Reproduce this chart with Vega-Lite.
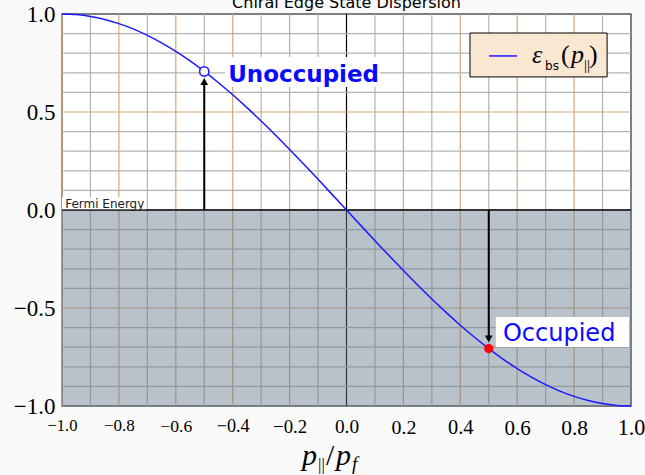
{
  "$schema": "https://vega.github.io/schema/vega-lite/v6.json",
  "width": 569,
  "height": 392,
  "autosize": "none",
  "padding": {"left": 62, "top": 14, "right": 14, "bottom": 69},
  "background": "#fafafa",
  "config": {"view": {"fill": "#ffffff", "stroke": "#555555", "strokeWidth": 1.5}},
  "datasets": {
    "curve": [
      {"x": -1.0, "y": 1.0}, {"x": -0.95, "y": 0.99692}, {"x": -0.9, "y": 0.98769}, {"x": -0.85, "y": 0.97237},
      {"x": -0.8, "y": 0.95106}, {"x": -0.75, "y": 0.92388}, {"x": -0.7, "y": 0.89101}, {"x": -0.65, "y": 0.85264},
      {"x": -0.6, "y": 0.80902}, {"x": -0.55, "y": 0.76041}, {"x": -0.5, "y": 0.70711}, {"x": -0.45, "y": 0.64945},
      {"x": -0.4, "y": 0.58779}, {"x": -0.35, "y": 0.5225}, {"x": -0.3, "y": 0.45399}, {"x": -0.25, "y": 0.38268},
      {"x": -0.2, "y": 0.30902}, {"x": -0.15, "y": 0.23345}, {"x": -0.1, "y": 0.15643}, {"x": -0.05, "y": 0.07846},
      {"x": 0.0, "y": 0.0}, {"x": 0.05, "y": -0.07846}, {"x": 0.1, "y": -0.15643}, {"x": 0.15, "y": -0.23345},
      {"x": 0.2, "y": -0.30902}, {"x": 0.25, "y": -0.38268}, {"x": 0.3, "y": -0.45399}, {"x": 0.35, "y": -0.5225},
      {"x": 0.4, "y": -0.58779}, {"x": 0.45, "y": -0.64945}, {"x": 0.5, "y": -0.70711}, {"x": 0.55, "y": -0.76041},
      {"x": 0.6, "y": -0.80902}, {"x": 0.65, "y": -0.85264}, {"x": 0.7, "y": -0.89101}, {"x": 0.75, "y": -0.92388},
      {"x": 0.8, "y": -0.95106}, {"x": 0.85, "y": -0.97237}, {"x": 0.9, "y": -0.98769}, {"x": 0.95, "y": -0.99692},
      {"x": 1.0, "y": -1.0}
    ],
    "vgrid": [
      {"gx": -1.0, "kind": "major"}, {"gx": -0.9, "kind": "minor"}, {"gx": -0.8, "kind": "major"}, {"gx": -0.7, "kind": "minor"},
      {"gx": -0.6, "kind": "major"}, {"gx": -0.5, "kind": "minor"}, {"gx": -0.4, "kind": "major"}, {"gx": -0.3, "kind": "minor"},
      {"gx": -0.2, "kind": "major"}, {"gx": -0.1, "kind": "minor"}, {"gx": 0.0, "kind": "axis"}, {"gx": 0.1, "kind": "minor"},
      {"gx": 0.2, "kind": "major"}, {"gx": 0.3, "kind": "minor"}, {"gx": 0.4, "kind": "major"}, {"gx": 0.5, "kind": "minor"},
      {"gx": 0.6, "kind": "major"}, {"gx": 0.7, "kind": "minor"}, {"gx": 0.8, "kind": "major"}, {"gx": 0.9, "kind": "minor"}
    ],
    "hgrid": [
      {"gy": 0.9, "kind": "minor"}, {"gy": 0.8, "kind": "minor"}, {"gy": 0.7, "kind": "minor"}, {"gy": 0.6, "kind": "minor"},
      {"gy": 0.5, "kind": "major"}, {"gy": 0.4, "kind": "minor"}, {"gy": 0.3, "kind": "minor"}, {"gy": 0.2, "kind": "minor"},
      {"gy": 0.1, "kind": "minor"}, {"gy": -0.1, "kind": "minor"}, {"gy": -0.2, "kind": "minor"}, {"gy": -0.3, "kind": "minor"},
      {"gy": -0.4, "kind": "minor"}, {"gy": -0.5, "kind": "major"}, {"gy": -0.6, "kind": "minor"}, {"gy": -0.7, "kind": "minor"},
      {"gy": -0.8, "kind": "minor"}, {"gy": -0.9, "kind": "minor"}
    ]
  },
  "layer": [
    {
      "data": {"name": "vgrid"},
      "mark": {"type": "rule", "strokeWidth": 1.2},
      "encoding": {
        "x": {"field": "gx", "type": "quantitative", "scale": {"domain": [-1, 1], "nice": false, "zero": false},
          "axis": {"values": [-1, -0.8, -0.6, -0.4, -0.2, 0, 0.2, 0.4, 0.6, 0.8, 1], "format": ".1f", "title": null, "grid": false, "ticks": false, "domain": false,
            "labelFont": "Liberation Serif", "labelColor": "#000000", "labelBaseline": "top", "labelPadding": 11, "labelFlush": false, "labelOverlap": false,
            "labelFontSize": {"expr": "16.5 + (datum.value + 1) * 2.8"}}},
        "color": {"field": "kind", "type": "nominal", "scale": {"domain": ["minor", "major", "axis"], "range": ["#b3b3b3", "#d4a77a", "#000000"]}, "legend": null}
      }
    },
    {
      "data": {"name": "hgrid"},
      "mark": {"type": "rule", "strokeWidth": 1.2},
      "encoding": {
        "y": {"field": "gy", "type": "quantitative", "scale": {"domain": [-1, 1], "nice": false, "zero": false},
          "axis": {"values": [-1, -0.5, 0, 0.5, 1], "format": ".1f", "title": null, "grid": false, "ticks": false, "domain": false,
            "labelFont": "Liberation Serif", "labelFontSize": 23, "labelColor": "#000000", "labelPadding": 7, "labelFlush": false, "labelOverlap": false}},
        "color": {"field": "kind", "type": "nominal", "legend": null}
      }
    },
    {
      "data": {"values": [{"x1": -1, "x2": 1, "y1": -1, "y2": 0}]},
      "mark": {"type": "rect", "color": "#67788c", "opacity": 0.46},
      "encoding": {
        "x": {"field": "x1", "type": "quantitative"}, "x2": {"field": "x2"},
        "y": {"field": "y1", "type": "quantitative"}, "y2": {"field": "y2"}
      }
    },
    {
      "data": {"values": [{"x1": -1, "x2": 1, "y": 0}]},
      "mark": {"type": "rule", "color": "#333333", "strokeWidth": 2},
      "encoding": {
        "x": {"field": "x1", "type": "quantitative"}, "x2": {"field": "x2"},
        "y": {"field": "y", "type": "quantitative"}
      }
    },
    {
      "data": {"name": "curve"},
      "mark": {"type": "line", "color": "#1a1aff", "strokeWidth": 1.5, "interpolate": "monotone"},
      "encoding": {
        "x": {"field": "x", "type": "quantitative"},
        "y": {"field": "y", "type": "quantitative"}
      }
    },
    {
      "data": {"values": [{"ax": -0.5, "y1": 0, "y2": 0.665}, {"ax": 0.5, "y1": 0, "y2": -0.665}]},
      "mark": {"type": "rule", "color": "#000000", "strokeWidth": 2},
      "encoding": {
        "x": {"field": "ax", "type": "quantitative"},
        "y": {"field": "y1", "type": "quantitative"}, "y2": {"field": "y2"}
      }
    },
    {
      "data": {"values": [{"ax": -0.5, "ay": 0.655, "dir": "up"}, {"ax": 0.5, "ay": -0.658, "dir": "down"}]},
      "mark": {"type": "point", "filled": true, "color": "#000000", "opacity": 1, "size": 60},
      "encoding": {
        "x": {"field": "ax", "type": "quantitative"},
        "y": {"field": "ay", "type": "quantitative"},
        "shape": {"field": "dir", "type": "nominal", "scale": {"domain": ["up", "down"], "range": ["triangle-up", "triangle-down"]}, "legend": null}
      }
    },
    {
      "data": {"values": [{"px": -0.5, "py": 0.70711}]},
      "mark": {"type": "point", "filled": true, "fill": "#ffffff", "stroke": "#1a1aff", "strokeWidth": 1.5, "opacity": 1, "size": 85},
      "encoding": {
        "x": {"field": "px", "type": "quantitative"},
        "y": {"field": "py", "type": "quantitative"}
      }
    },
    {
      "data": {"values": [{"px": 0.5, "py": -0.70711}]},
      "mark": {"type": "point", "filled": true, "color": "#ff0000", "opacity": 1, "size": 85},
      "encoding": {
        "x": {"field": "px", "type": "quantitative"},
        "y": {"field": "py", "type": "quantitative"}
      }
    },
    {
      "data": {"values": [
        {"bx1": -0.427, "bx2": 0.118, "by1": 0.628, "by2": 0.781},
        {"bx1": 0.525, "bx2": 0.993, "by1": -0.699, "by2": -0.546},
        {"bx1": -1.0, "bx2": -0.705, "by1": 0.004, "by2": 0.065}
      ]},
      "mark": {"type": "rect", "color": "#ffffff", "opacity": 1},
      "encoding": {
        "x": {"field": "bx1", "type": "quantitative"}, "x2": {"field": "bx2"},
        "y": {"field": "by1", "type": "quantitative"}, "y2": {"field": "by2"}
      }
    },
    {
      "data": {"values": [{"tx": -0.416, "ty": 0.655, "label": "Unoccupied"}]},
      "mark": {"type": "text", "font": "DejaVu Sans", "fontWeight": "bold", "fontSize": 23, "color": "#0a0aff", "align": "left", "baseline": "alphabetic"},
      "encoding": {
        "x": {"field": "tx", "type": "quantitative"},
        "y": {"field": "ty", "type": "quantitative"},
        "text": {"field": "label"}
      }
    },
    {
      "data": {"values": [{"tx": 0.55, "ty": -0.668, "label": "Occupied"}]},
      "mark": {"type": "text", "font": "DejaVu Sans", "fontSize": 24, "color": "#0a0aff", "align": "left", "baseline": "alphabetic"},
      "encoding": {
        "x": {"field": "tx", "type": "quantitative"},
        "y": {"field": "ty", "type": "quantitative"},
        "text": {"field": "label"}
      }
    },
    {
      "data": {"values": [{"tx": -0.989, "ty": 0.01, "label": "Fermi Energy"}]},
      "mark": {"type": "text", "font": "DejaVu Sans", "fontSize": 12, "color": "#222222", "align": "left", "baseline": "alphabetic"},
      "encoding": {
        "x": {"field": "tx", "type": "quantitative"},
        "y": {"field": "ty", "type": "quantitative"},
        "text": {"field": "label"}
      }
    },
    {
      "data": {"values": [{"tx": 0.0, "ty": 1.032, "label": "Chiral Edge State Dispersion"}]},
      "mark": {"type": "text", "font": "DejaVu Sans", "fontSize": 16, "color": "#000000", "align": "center", "baseline": "alphabetic"},
      "encoding": {
        "x": {"field": "tx", "type": "quantitative"},
        "y": {"field": "ty", "type": "quantitative"},
        "text": {"field": "label"}
      }
    },
    {
      "data": {"values": [{"bx1": 0.434, "bx2": 0.916, "by1": 0.679, "by2": 0.903}]},
      "mark": {"type": "rect", "fill": "#f9e7d2", "stroke": "#000000", "strokeWidth": 1, "opacity": 1},
      "encoding": {
        "x": {"field": "bx1", "type": "quantitative"}, "x2": {"field": "bx2"},
        "y": {"field": "by1", "type": "quantitative"}, "y2": {"field": "by2"}
      }
    },
    {
      "data": {"values": [{"lx1": 0.501, "lx2": 0.599, "ly": 0.786}]},
      "mark": {"type": "rule", "color": "#1a1aff", "strokeWidth": 1.5},
      "encoding": {
        "x": {"field": "lx1", "type": "quantitative"}, "x2": {"field": "lx2"},
        "y": {"field": "ly", "type": "quantitative"}
      }
    },
    {
      "data": {"values": [
        {"tx": 0.652, "ty": 0.75, "label": "ε"},
        {"tx": 0.789, "ty": 0.75, "label": "p"}
      ]},
      "mark": {"type": "text", "font": "Liberation Serif", "fontStyle": "italic", "fontSize": 26, "color": "#000000", "align": "left", "baseline": "alphabetic"},
      "encoding": {
        "x": {"field": "tx", "type": "quantitative"},
        "y": {"field": "ty", "type": "quantitative"},
        "text": {"field": "label"}
      }
    },
    {
      "data": {"values": [
        {"tx": 0.754, "ty": 0.75, "label": "("},
        {"tx": 0.852, "ty": 0.75, "label": ")"}
      ]},
      "mark": {"type": "text", "font": "Liberation Serif", "fontSize": 26, "color": "#000000", "align": "left", "baseline": "alphabetic"},
      "encoding": {
        "x": {"field": "tx", "type": "quantitative"},
        "y": {"field": "ty", "type": "quantitative"},
        "text": {"field": "label"}
      }
    },
    {
      "data": {"values": [
        {"tx": 0.698, "ty": 0.714, "label": "bs"}
      ]},
      "mark": {"type": "text", "font": "DejaVu Sans", "fontSize": 12, "color": "#000000", "align": "left", "baseline": "alphabetic"},
      "encoding": {
        "x": {"field": "tx", "type": "quantitative"},
        "y": {"field": "ty", "type": "quantitative"},
        "text": {"field": "label"}
      }
    },
    {
      "data": {"values": [
        {"tx": 0.835, "ty": 0.712, "label": "||"}
      ]},
      "mark": {"type": "text", "font": "Liberation Serif", "fontSize": 15, "color": "#000000", "align": "left", "baseline": "alphabetic"},
      "encoding": {
        "x": {"field": "tx", "type": "quantitative"},
        "y": {"field": "ty", "type": "quantitative"},
        "text": {"field": "label"}
      }
    },
    {
      "data": {"values": [
        {"tx": -0.156, "ty": -1.301, "label": "p"},
        {"tx": -0.037, "ty": -1.301, "label": "p"}
      ]},
      "mark": {"type": "text", "font": "Liberation Serif", "fontStyle": "italic", "fontSize": 30, "color": "#000000", "align": "left", "baseline": "alphabetic"},
      "encoding": {
        "x": {"field": "tx", "type": "quantitative"},
        "y": {"field": "ty", "type": "quantitative"},
        "text": {"field": "label"}
      }
    },
    {
      "data": {"values": [
        {"tx": -0.072, "ty": -1.301, "label": "/"}
      ]},
      "mark": {"type": "text", "font": "Liberation Serif", "fontSize": 30, "color": "#000000", "align": "left", "baseline": "alphabetic"},
      "encoding": {
        "x": {"field": "tx", "type": "quantitative"},
        "y": {"field": "ty", "type": "quantitative"},
        "text": {"field": "label"}
      }
    },
    {
      "data": {"values": [
        {"tx": -0.100, "ty": -1.327, "label": "||"}
      ]},
      "mark": {"type": "text", "font": "Liberation Serif", "fontSize": 17, "color": "#000000", "align": "left", "baseline": "alphabetic"},
      "encoding": {
        "x": {"field": "tx", "type": "quantitative"},
        "y": {"field": "ty", "type": "quantitative"},
        "text": {"field": "label"}
      }
    },
    {
      "data": {"values": [
        {"tx": 0.019, "ty": -1.327, "label": "f"}
      ]},
      "mark": {"type": "text", "font": "Liberation Serif", "fontStyle": "italic", "fontSize": 19, "color": "#000000", "align": "left", "baseline": "alphabetic"},
      "encoding": {
        "x": {"field": "tx", "type": "quantitative"},
        "y": {"field": "ty", "type": "quantitative"},
        "text": {"field": "label"}
      }
    }
  ]
}
